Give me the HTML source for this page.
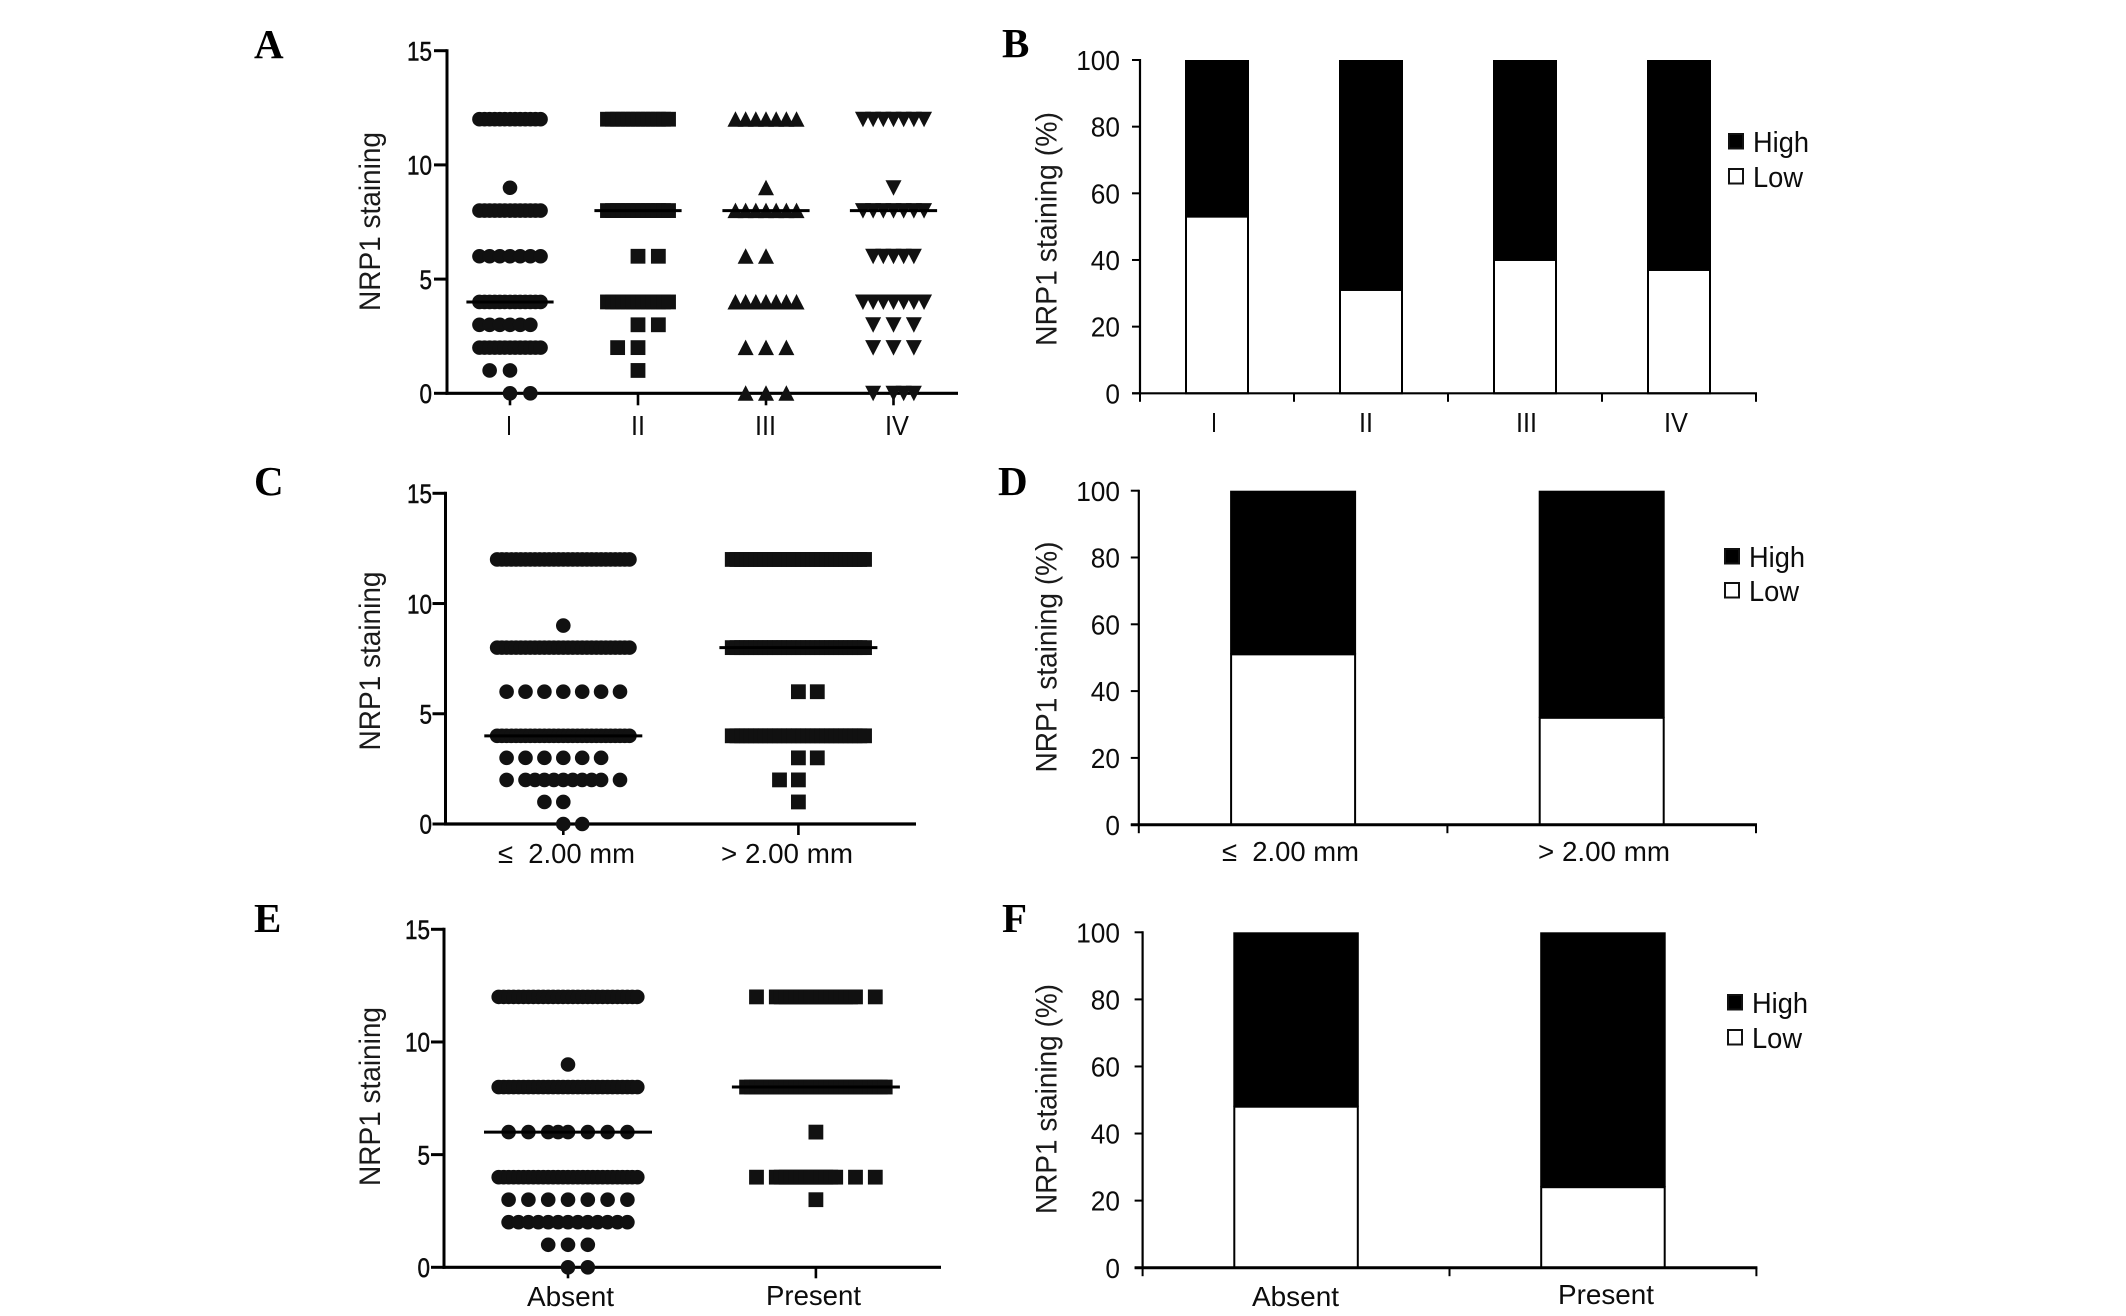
<!DOCTYPE html>
<html lang="en">
<head>
<meta charset="utf-8">
<title>NRP1 staining charts</title>
<style>
html,body{margin:0;padding:0;background:#fff;}
body{width:2126px;height:1316px;overflow:hidden;}
svg{display:block;}
text{font-family:"Liberation Sans",sans-serif;fill:#0c0c0c;}
.letter{font-family:"Liberation Serif",serif;font-weight:bold;font-size:41px;fill:#000;}
.axis-title{font-size:30px;fill:#1a1a1a;}
</style>
</head>
<body>
<svg id="figure" xmlns="http://www.w3.org/2000/svg" width="2126" height="1316" viewBox="0 0 2126 1316">
  <rect x="0" y="0" width="2126" height="1316" fill="#fff"/>
  <text class="letter" x="254" y="58">A</text>
  <text class="letter" x="1002" y="57">B</text>
  <text class="letter" x="254" y="495">C</text>
  <text class="letter" x="998" y="495">D</text>
  <text class="letter" x="254" y="932">E</text>
  <text class="letter" x="1002" y="932">F</text>

  <text class="axis-title" text-anchor="middle" textLength="179" lengthAdjust="spacingAndGlyphs" transform="translate(380,221.5) rotate(-90)">NRP1 staining</text>
  <text class="axis-title" text-anchor="middle" textLength="179" lengthAdjust="spacingAndGlyphs" transform="translate(380,661) rotate(-90)">NRP1 staining</text>
  <text class="axis-title" text-anchor="middle" textLength="179" lengthAdjust="spacingAndGlyphs" transform="translate(380,1096.5) rotate(-90)">NRP1 staining</text>
  <text class="axis-title" text-anchor="middle" textLength="234" lengthAdjust="spacingAndGlyphs" transform="translate(1056.5,229) rotate(-90)">NRP1 staining (%)</text>
  <text class="axis-title" text-anchor="middle" textLength="231" lengthAdjust="spacingAndGlyphs" transform="translate(1056.5,657) rotate(-90)">NRP1 staining (%)</text>
  <text class="axis-title" text-anchor="middle" textLength="230" lengthAdjust="spacingAndGlyphs" transform="translate(1056.5,1099) rotate(-90)">NRP1 staining (%)</text>
</svg>
<script>
/* ---------- shared tick labels ---------- */
const scoreTicks = [0, 5, 10, 15];
const percentTicks = [0, 20, 40, 60, 80, 100];
const legendLabels = ['High', 'Low'];

/* ---------- panel A: staining score by stage ---------- */
const panelACategories = ['I', 'II', 'III', 'IV'];
const panelAMedians = [4, 8, 8, 8];
const panelAScoresI = [12, 9, 8, 6, 4, 3, 2, 1, 0];
const panelAScoresII = [12, 8, 6, 4, 3, 2, 1];
const panelAScoresIII = [12, 9, 8, 6, 4, 2, 0];
const panelAScoresIV = [12, 9, 8, 6, 4, 3, 2, 0];
/* swarm slot runs per score row: [first slot, last slot, slot step] */
const panelASlotsI = [[[-3,3,.5]],[[0,0,1]],[[-3,3,.5]],[[-3,3,1]],[[-3,3,.5]],[[-3,2,1]],[[-3,3,.5]],[[-2,0,2]],[[0,2,2]]];
const panelASlotsII = [[[-3,3,.5]],[[-3,3,.5]],[[0,2,2]],[[-3,3,.5]],[[0,2,2]],[[-2,0,2]],[[0,0,1]]];
const panelASlotsIII = [[[-3,3,1]],[[0,0,1]],[[-3,3,1]],[[-2,0,2]],[[-3,3,1]],[[-2,2,2]],[[-2,2,2]]];
const panelASlotsIV = [[[-3,3,1]],[[0,0,1]],[[-3,3,1]],[[-2,2,1]],[[-3,3,1]],[[-2,2,2]],[[-2,2,2]],[[-2,-2,1],[0,2,1]]];

/* ---------- panel C: staining score by thickness ---------- */
const panelCCategories = ['\u2264\u00a0 2.00 mm', '> 2.00 mm'];
const panelCMedians = [4, 8];
const panelCScoresThin = [12, 9, 8, 6, 4, 3, 2, 1, 0];
const panelCScoresThick = [12, 8, 6, 4, 3, 2, 1];
const panelCSlotsThin = [[[-7,7,.5]],[[0,0,1]],[[-7,7,.5]],[[-6,6,2]],[[-7,7,.5]],[[-6,4,2]],[[-6,-6,1],[-4,4,1],[6,6,1]],[[-2,0,2]],[[0,2,2]]];
const panelCSlotsThick = [[[-7,7,.5]],[[-7,7,.5]],[[0,2,2]],[[-7,7,.5]],[[0,2,2]],[[-2,0,2]],[[0,0,1]]];

/* ---------- panel E: staining score by presence ---------- */
const panelECategories = ['Absent', 'Present'];
const panelEMedians = [6, 8];
const panelEScoresAbsent = [12, 9, 8, 6, 4, 3, 2, 1, 0];
const panelEScoresPresent = [12, 8, 6, 4, 3];
const panelESlotsAbsent = [[[-7,7,.5]],[[0,0,1]],[[-7,7,.5]],[[-6,-2,2],[-1,0,1],[2,6,2]],[[-7,7,.5]],[[-6,6,2]],[[-6,6,1]],[[-2,2,2]],[[0,2,2]]];
const panelESlotsPresent = [[[-6,-6,1],[-4,4,.5],[6,6,1]],[[-7,7,.5]],[[0,0,1]],[[-6,-6,1],[-4,2,.5],[4,4,1],[6,6,1]],[[0,0,1]]];

/* ---------- panels B, D, F: percent of low and high staining ---------- */
const panelBCategories = ['I', 'II', 'III', 'IV'];
const panelBLow = [53, 31, 40, 37];
const panelBHigh = [47, 69, 60, 63];
const panelDCategories = ['\u2264\u00a0 2.00 mm', '> 2.00 mm'];
const panelDLow = [51, 32];
const panelDHigh = [49, 68];
const panelFCategories = ['Absent', 'Present'];
const panelFLow = [48, 24];
const panelFHigh = [52, 76];

const svg = document.getElementById('figure');
const NS = 'http://www.w3.org/2000/svg';

function make(tag, attrs, parent) {
  const el = document.createElementNS(NS, tag);
  for (const key in attrs) el.setAttribute(key, attrs[key]);
  (parent || svg).appendChild(el);
  return el;
}

function line(parent, x1, y1, x2, y2, width, label) {
  const el = make('line', {x1: x1, y1: y1, x2: x2, y2: y2, stroke: '#000', 'stroke-width': width}, parent);
  
  
  return el;
}

function yLabels(parent, ticks, yScale, right, size, digitWidth, heavy) {
  ticks.forEach(function (tick) {
    const str = String(tick);
    const t = make('text', {x: right, y: yScale(tick) + size * 0.36, 'text-anchor': 'end', 'font-size': size, textLength: str.length * digitWidth, lengthAdjust: 'spacingAndGlyphs', stroke: heavy ? '#111' : 'none', 'stroke-width': heavy ? 0.5 : 0}, parent);
    
    
    t.textContent = str;
  });
}

function categoryLabel(parent, text, x, width, baseline, size) {
  const t = make('text', {x: x, y: baseline, 'font-size': size, textLength: width, lengthAdjust: 'spacingAndGlyphs'}, parent);
  
  
  t.textContent = text;
}

function drawMarker(parent, kind, x, y) {
  let el;
  if (kind === 'circle') {
    el = make('circle', {cx: x, cy: y, r: 7.3, fill: '#111'}, parent);
  } else if (kind === 'square') {
    el = make('rect', {x: x - 7.4, y: y - 7.4, width: 14.8, height: 14.8, fill: '#111'}, parent);
  } else if (kind === 'up') {
    el = make('polygon', {points: (x - 8) + ',' + (y + 7.5) + ' ' + (x + 8) + ',' + (y + 7.5) + ' ' + x + ',' + (y - 8), fill: '#111'}, parent);
  } else {
    el = make('polygon', {points: (x - 8) + ',' + (y - 7.5) + ' ' + (x + 8) + ',' + (y - 7.5) + ' ' + x + ',' + (y + 8), fill: '#111'}, parent);
  }
  
  
}

function drawDotPanel(name, f, categories, medians, groups) {
  const g = make('g', {});
  
  
  const yScale = function (v) { return f.y0 - (v / 15) * (f.y0 - f.y15); };
  yLabels(g, scoreTicks, yScale, f.labelRight, 27, 12.5, true);
  scoreTicks.forEach(function (tick) {
    line(g, f.x0 - 13, yScale(tick), f.x0, yScale(tick), 3, 'y-tick');
  });
  line(g, f.x0, f.y15 - 1.5, f.x0, f.y0 + 1.5, 3, 'y-axis-line');
  line(g, f.x0 - 1.5, f.y0, f.xEnd, f.y0, 3.2, 'x-axis-line');
  categories.forEach(function (cat, i) {
    const cx = f.centers[i];
    line(g, cx, f.y0, cx, f.y0 + f.tick, 2.6, 'x-tick');
    const group = groups[i];
    group.scores.forEach(function (score, r) {
      group.slots[r].forEach(function (run) {
        for (let s = run[0]; s <= run[1] + 1e-6; s += run[2]) {
          drawMarker(g, group.marker, cx + s * f.slot, yScale(score));
        }
      });
    });
    line(g, cx - f.medianHalf, yScale(medians[i]), cx + f.medianHalf, yScale(medians[i]), 3, 'median-line');
    const lab = f.labels[i];
    categoryLabel(g, cat, lab[0], lab[1], lab[2], f.labelSize);
  });
}

function drawBarPanel(name, f, categories, low, high) {
  const g = make('g', {});
  
  
  const yScale = function (v) { return f.y0 - (v / 100) * (f.y0 - f.y100); };
  yLabels(g, percentTicks, yScale, 1120, 28, 14.6, false);
  percentTicks.forEach(function (tick) {
    line(g, f.x0 - 8, yScale(tick), f.x0, yScale(tick), 2, 'y-tick');
  });
  const binWidth = (f.xEnd - f.x0) / categories.length;
  categories.forEach(function (cat, i) {
    const cx = f.x0 + binWidth * (i + 0.5);
    const left = cx - f.barWidth / 2;
    const lowBar = make('rect', {x: left, y: yScale(low[i]), width: f.barWidth, height: yScale(0) - yScale(low[i]), fill: '#fff', stroke: '#000', 'stroke-width': 2}, g);
    
    
    const highBar = make('rect', {x: left - 1, y: yScale(low[i] + high[i]), width: f.barWidth + 2, height: yScale(low[i]) - yScale(low[i] + high[i]), fill: '#000'}, g);
    
    
    const lab = f.labels[i];
    categoryLabel(g, cat, lab[0], lab[1], lab[2], 28);
  });
  for (let i = 0; i <= categories.length; i++) {
    const tx = f.x0 + binWidth * i;
    line(g, tx, f.y0, tx, f.y0 + 8.5, 2, 'x-tick');
  }
  line(g, f.x0, f.y100 - 1, f.x0, f.y0 + 1, 2.2, 'y-axis-line');
  line(g, f.x0 - 8, f.y0, f.xEnd + 1, f.y0, f.axisWidth, 'x-axis-line');

  const legend = make('g', {}, g);
  
  
  legendLabels.forEach(function (text, i) {
    const swatch = make('rect', {x: f.legendX + 1, y: f.legendY[i] + 1, width: 14, height: 14.5, fill: i === 0 ? '#000' : '#fff', stroke: '#111', 'stroke-width': 2}, legend);
    
    
    const t = make('text', {x: f.legendX + 25, y: f.legendY[i] + 19, 'font-size': 29, textLength: text.length === 4 ? 56 : 50, lengthAdjust: 'spacingAndGlyphs'}, legend);
    
    
    t.textContent = text;
  });
}

drawDotPanel('panel-a-dot-plot',
  {x0: 447, y0: 393.3, y15: 50.7, xEnd: 958, tick: 12, slot: 10.18, medianHalf: 43.6, labelRight: 432, labelSize: 28,
   centers: [510, 638, 766, 893.5],
   labels: [[506, 6, 435], [631, 14, 435], [755, 21, 435], [885, 24, 435]]},
  panelACategories, panelAMedians,
  [{marker: 'circle', scores: panelAScoresI, slots: panelASlotsI},
   {marker: 'square', scores: panelAScoresII, slots: panelASlotsII},
   {marker: 'up', scores: panelAScoresIII, slots: panelASlotsIII},
   {marker: 'down', scores: panelAScoresIV, slots: panelASlotsIV}]);

drawDotPanel('panel-c-dot-plot',
  {x0: 445.5, y0: 824, y15: 493.3, xEnd: 916, tick: 11, slot: 9.45, medianHalf: 79, labelRight: 432, labelSize: 28,
   centers: [563.3, 798.4],
   labels: [[498, 137, 863], [721, 132, 863]]},
  panelCCategories, panelCMedians,
  [{marker: 'circle', scores: panelCScoresThin, slots: panelCSlotsThin},
   {marker: 'square', scores: panelCScoresThick, slots: panelCSlotsThick}]);

drawDotPanel('panel-e-dot-plot',
  {x0: 444, y0: 1267.3, y15: 929.3, xEnd: 941, tick: 11, slot: 9.9, medianHalf: 84, labelRight: 430, labelSize: 28,
   centers: [568, 815.9],
   labels: [[527, 87, 1306], [766, 95, 1305]]},
  panelECategories, panelEMedians,
  [{marker: 'circle', scores: panelEScoresAbsent, slots: panelESlotsAbsent},
   {marker: 'square', scores: panelEScoresPresent, slots: panelESlotsPresent}]);

drawBarPanel('panel-b-stacked-bars',
  {x0: 1140, y0: 393.3, y100: 60, xEnd: 1756, barWidth: 62, axisWidth: 2.2, legendX: 1728, legendY: [133, 168],
   labels: [[1211, 6, 432], [1359, 14, 432], [1516, 21, 432], [1664, 24, 432]]},
  panelBCategories, panelBLow, panelBHigh);

drawBarPanel('panel-d-stacked-bars',
  {x0: 1138.8, y0: 824.7, y100: 490.7, xEnd: 1756, barWidth: 124, axisWidth: 3, legendX: 1724, legendY: [548, 582],
   labels: [[1222, 137, 861], [1538, 132, 861]]},
  panelDCategories, panelDLow, panelDHigh);

drawBarPanel('panel-f-stacked-bars',
  {x0: 1142.6, y0: 1267.7, y100: 932.3, xEnd: 1756.4, barWidth: 123.5, axisWidth: 3, legendX: 1727, legendY: [994, 1029],
   labels: [[1252, 87, 1306], [1558, 96, 1304]]},
  panelFCategories, panelFLow, panelFHigh);
</script>
</body>
</html>
